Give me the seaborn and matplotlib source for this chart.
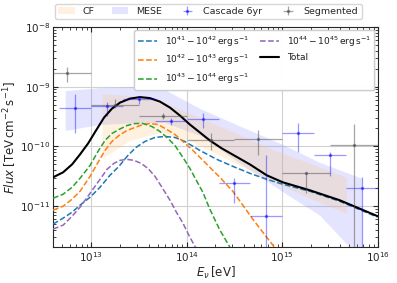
import numpy as np
import matplotlib
matplotlib.use("Agg")
import matplotlib.pyplot as plt
from matplotlib.patches import Patch
import seaborn as sns

# model components: log10 E [eV] and log10 flux [TeV cm^-2 s^-1]
lgE_total = [12.603, 12.708, 12.802, 12.885, 12.969, 13.052, 13.136, 13.219, 13.303, 13.407,
             13.511, 13.616, 13.720, 13.825, 13.929, 14.033, 14.138, 14.242, 14.367, 14.514,
             14.660, 14.837, 15.004, 15.286, 15.599, 15.996]
lgF_total = [-10.517, -10.433, -10.30, -10.133, -9.95, -9.733, -9.517, -9.367, -9.267, -9.20,
             -9.175, -9.192, -9.25, -9.35, -9.483, -9.633, -9.767, -9.90, -10.033, -10.167,
             -10.30, -10.483, -10.60, -10.733, -10.90, -11.167]

lgE_41 = [12.603, 12.708, 12.802, 12.885, 12.990, 13.094, 13.198, 13.292, 13.386, 13.470,
          13.564, 13.668, 13.772, 13.877, 13.981, 14.138, 14.315, 14.482, 14.660, 14.837,
          15.004, 15.286, 15.599, 15.996]
lgF_41 = [-11.30, -11.20, -11.10, -10.983, -10.85, -10.683, -10.483, -10.333, -10.15, -10.017,
          -9.917, -9.85, -9.833, -9.85, -9.917, -10.067, -10.217, -10.333, -10.45, -10.55,
          -10.633, -10.75, -10.917, -11.183]

lgE_42 = [12.603, 12.708, 12.802, 12.885, 12.990, 13.073, 13.146, 13.219, 13.292, 13.376,
          13.459, 13.543, 13.616, 13.699, 13.793, 13.877, 13.960, 14.054, 14.138, 14.242,
          14.347, 14.482, 14.587, 14.691, 14.795, 14.900, 15.004]
lgF_42 = [-11.067, -11.0, -10.883, -10.75, -10.50, -10.267, -10.067, -9.917, -9.817, -9.733,
          -9.683, -9.633, -9.617, -9.633, -9.717, -9.80, -9.917, -10.05, -10.183, -10.35,
          -10.517, -10.75, -10.983, -11.217, -11.433, -11.65, -11.867]

lgE_43 = [12.603, 12.708, 12.802, 12.885, 12.990, 13.073, 13.146, 13.219, 13.292, 13.376,
          13.459, 13.543, 13.637, 13.720, 13.793, 13.877, 13.960, 14.033, 14.106, 14.169,
          14.242, 14.347, 14.451, 14.534]
lgF_43 = [-10.867, -10.80, -10.683, -10.533, -10.317, -10.083, -9.90, -9.783, -9.717, -9.65,
          -9.617, -9.617, -9.667, -9.75, -9.85, -9.983, -10.183, -10.367, -10.583, -10.767,
          -11.05, -11.40, -11.683, -11.983]

lgE_44 = [12.603, 12.708, 12.802, 12.885, 12.990, 13.094, 13.167, 13.240, 13.303, 13.376,
          13.449, 13.522, 13.595, 13.668, 13.741, 13.825, 13.898, 13.960, 14.033, 14.096,
          14.159]
lgF_44 = [-11.383, -11.317, -11.167, -11.017, -10.783, -10.55, -10.383, -10.283, -10.233, -10.217,
          -10.233, -10.283, -10.367, -10.50, -10.683, -10.90, -11.117, -11.283, -11.517, -11.70,
          -11.90]

# fit bands: log10 E, lower and upper log10 flux
lgE_mese = [12.73, 13.09, 13.51, 13.77, 14.14, 14.59, 14.98, 15.39, 15.83]
lgF_mese_lo = [-9.733, -9.633, -9.60, -9.60, -9.817, -10.317, -10.733, -11.15, -11.9]
lgF_mese_hi = [-9.067, -9.017, -9.0, -9.05, -9.367, -9.683, -9.95, -10.267, -10.533]

lgE_cf = [13.115, 13.407, 13.72, 14.033, 14.45, 14.87, 15.29, 15.67]
lgF_cf_lo = [-10.2, -9.9, -9.767, -9.9, -10.233, -10.567, -10.867, -11.117]
lgF_cf_hi = [-9.117, -9.15, -9.233, -9.45, -9.733, -10.033, -10.283, -10.517]

# Segmented (half-decade bins)
lgE_seg = [12.75, 13.25, 13.75, 14.25, 14.75, 15.25, 15.75]
lgF_seg = [-8.767, -9.30, -9.483, -9.90, -9.883, -10.45, -9.983]
lgF_seg_lo = [-8.917, -9.35, -9.533, -10.067, -10.15, -10.783, -13.0]
lgF_seg_hi = [-8.667, -9.20, -9.433, -9.783, -9.717, -10.43, -9.633]

# Cascade 6yr (third-decade bins)
lgE_cas = [12.833, 13.167, 13.5, 13.833, 14.167, 14.5, 14.833, 15.167, 15.5, 15.833]
lgF_cas = [-9.35, -9.317, -9.20, -9.567, -9.533, -10.617, -11.167, -9.783, -10.15, -10.70]
lgF_cas_lo = [-9.783, -9.483, -9.283, -9.65, -9.70, -10.95, -13.0, -10.10, -10.50, -13.0]
lgF_cas_hi = [-9.117, -9.25, -9.15, -9.517, -9.433, -10.533, -10.15, -9.60, -10.10, -10.517]

sns.set_style("ticks")
plt.rcParams["font.family"] = ["DejaVu Sans"]
plt.rcParams["mathtext.fontset"] = "dejavusans"

fig = plt.figure(figsize=(3.97, 2.83), dpi=100)
ax = fig.add_axes([0.1335, 0.127, 0.8185, 0.778])

p = lambda a: 10 ** np.asarray(a)

mese_col, cf_col = "#6a6aff", "#ffc070"
ax.fill_between(p(lgE_mese), p(lgF_mese_lo), p(lgF_mese_hi), color=mese_col, alpha=0.18, lw=0, zorder=1)
ax.fill_between(p(lgE_cf), p(lgF_cf_lo), p(lgF_cf_hi), color=cf_col, alpha=0.22, lw=0, zorder=1)

comp = [(lgE_41, lgF_41, "C0", r"$10^{41}-10^{42}\,\mathrm{erg\,s^{-1}}$"),
        (lgE_42, lgF_42, "C1", r"$10^{42}-10^{43}\,\mathrm{erg\,s^{-1}}$"),
        (lgE_43, lgF_43, "C2", r"$10^{43}-10^{44}\,\mathrm{erg\,s^{-1}}$"),
        (lgE_44, lgF_44, "C4", r"$10^{44}-10^{45}\,\mathrm{erg\,s^{-1}}$")]
for xe, yf, c, lab in comp:
    sns.lineplot(x=p(xe), y=p(yf), color=c, ls="--", lw=1.1, label=lab, ax=ax, zorder=3)
sns.lineplot(x=p(lgE_total), y=p(lgF_total), color="black", lw=1.5, label="Total", ax=ax, zorder=4)


def errs(lgE, lgF, lo, hi, half):
    x = p(lgE)
    y = p(lgF)
    xerr = [x - p(np.asarray(lgE) - half), p(np.asarray(lgE) + half) - x]
    yerr = [y - p(lo), p(hi) - y]
    return x, y, xerr, yerr


x, y, xe, ye = errs(lgE_cas, lgF_cas, lgF_cas_lo, lgF_cas_hi, 1 / 6)
cas = ax.errorbar(x, y, xerr=xe, yerr=ye, fmt=".", ms=3, color="blue", alpha=0.4, lw=0.9, zorder=5)
x, y, xe, ye = errs(lgE_seg, lgF_seg, lgF_seg_lo, lgF_seg_hi, 0.25)
seg = ax.errorbar(x, y, xerr=xe, yerr=ye, fmt=".", ms=3, color="0.3", alpha=0.5, lw=0.9, zorder=5)

ax.set_xscale("log")
ax.set_yscale("log")
ax.set_xlim(4e12, 1e16)
ax.set_ylim(2.07e-12, 1e-8)
ax.grid(True, which="major", color="0.82", lw=0.8)
ax.tick_params(which="both", direction="in", top=True, right=True, labelsize=7.5)
ax.tick_params(which="major", pad=2)
ax.set_xlabel(r"$E_\nu\,[\mathrm{eV}]$", fontsize=8.5, labelpad=1)
ax.set_ylabel(r"$Flux\;[\mathrm{TeV\,cm^{-2}\,s^{-1}}]$", fontsize=8.5, labelpad=1)

leg_in = ax.legend(ncol=2, loc="upper right", fontsize=6.5, handlelength=2.2,
                   columnspacing=1.2, borderaxespad=0.4, framealpha=0.9)
ax.add_artist(leg_in)

h_top = [Patch(color=cf_col, alpha=0.22, lw=0), Patch(color=mese_col, alpha=0.18, lw=0), cas, seg]
fig.legend(h_top, ["CF", "MESE", "Cascade 6yr", "Segmented"], ncol=4, loc="lower center",
           bbox_to_anchor=(0.525, 0.915), fontsize=6.8, handlelength=1.7, columnspacing=1.9,
           borderpad=0.35)

fig.savefig("out.png", dpi=100)
